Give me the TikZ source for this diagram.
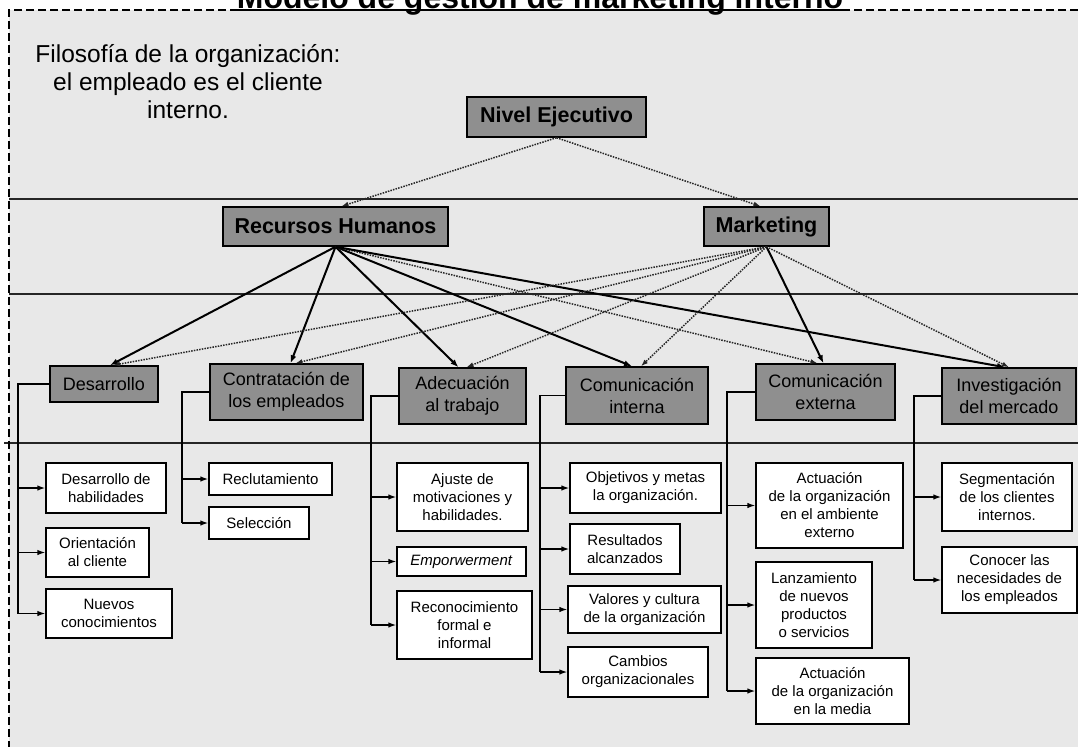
\documentclass[tikz,border=0pt]{standalone}
\usepackage{fontspec}
\setmainfont{Liberation Sans}
\usetikzlibrary{arrows.meta}
\definecolor{bgc}{RGB}{232,232,232}
\definecolor{boxg}{RGB}{143,143,143}
\begin{document}
\begin{tikzpicture}[x=1pt,y=-1pt,
  topbox/.style={draw=black, line width=1.5pt, fill=boxg, inner sep=0pt, font=\fontsize{21.5pt}{26pt}\selectfont\bfseries},
  midbox/.style={draw=black, line width=1.5pt, fill=boxg, inner sep=0pt, align=center, font=\fontsize{18pt}{22pt}\selectfont},
  leaf/.style={draw=black, line width=1.3pt, fill=white, inner sep=0pt, align=center, font=\fontsize{15pt}{18pt}\selectfont},
  solidc/.style={line width=2pt, -{Latex[length=8pt,width=6pt]}},
  dotc/.style={line width=1.5pt, dash pattern=on 1.5pt off 1.2pt, draw=black!85, -{Latex[length=7pt,width=5pt]}},
  branch/.style={line width=1.4pt},
  barr/.style={line width=1.4pt, -{Latex[length=8pt,width=5.5pt]}},
  band/.style={line width=1.4pt, draw=black!85},
  frame/.style={line width=1.2pt, dash pattern=on 8pt off 4pt}
]
\useasboundingbox (0,0) rectangle (1078,747);
\clip (0,0) rectangle (1078,747);
\fill[white] (0,0) rectangle (1078,747);
\fill[bgc] (9,10) rectangle (1078,747);

% horizontal bands
\draw[band] (9,199) -- (1078,199);
\draw[band] (9,294) -- (1078,294);
\draw[band] (4,443) -- (1078,443);

% frame
\draw[frame] (1078,10) -- (9,10) -- (9,747);

% title
\node[inner sep=0pt, anchor=base, font=\fontsize{32pt}{38pt}\selectfont\bfseries] (title) at (540,8) {Modelo de gestión de marketing interno};
\draw[line width=1.6pt] ([yshift=-2pt]title.base west) -- ([yshift=-2pt]title.base east);

% philosophy
\node[anchor=base, inner sep=0pt, font=\fontsize{24.5pt}{28pt}\selectfont] (ph1) at (188,62) {Filosofía de la organización:};
\node[anchor=base, inner sep=0pt, font=\fontsize{24.5pt}{28pt}\selectfont] (ph2) at (188,90) {el empleado es el cliente};
\node[anchor=base, inner sep=0pt, font=\fontsize{24.5pt}{28pt}\selectfont] (ph3) at (188,118) {interno.};

% top boxes
\node[topbox, minimum width=179pt, minimum height=40pt] (NE) at (556.5,117) {Nivel Ejecutivo};
\node[topbox, minimum width=225pt, minimum height=39pt] (RH) at (335.5,226.5) {Recursos Humanos};
\node[topbox, minimum width=125pt, minimum height=39pt] (MK) at (766.5,226.5) {Marketing};

% middle boxes
\node[midbox, minimum width=108pt, minimum height=36pt] (Des) at (104,384) {Desarrollo};
\node[midbox, minimum width=153pt, minimum height=56pt] (Con) at (286.5,392) {Contratación de\\los empleados};
\node[midbox, minimum width=127pt, minimum height=56pt] (Ade) at (462.5,396) {Adecuación\\al trabajo};
\node[midbox, minimum width=142pt, minimum height=57pt] (CIn) at (637,395.5) {Comunicación\\interna};
\node[midbox, minimum width=139pt, minimum height=56pt] (CEx) at (825.5,392) {Comunicación\\externa};
\node[midbox, minimum width=134pt, minimum height=56pt] (Inv) at (1009,396) {Investigación\\del mercado};

% leaves
\node[leaf, minimum width=120pt, minimum height=50pt] (L1) at (106,488) {Desarrollo de\\habilidades};
\node[leaf, minimum width=103pt, minimum height=49pt] (L2) at (97.5,552.5) {Orientación\\al cliente};
\node[leaf, minimum width=126pt, minimum height=49pt] (L3) at (109,613.5) {Nuevos\\conocimientos};
\node[leaf, minimum width=123pt, minimum height=32pt] (L4) at (270.5,479) {Reclutamiento};
\node[leaf, minimum width=100pt, minimum height=32pt] (L5) at (259,523) {Selección};
\node[leaf, minimum width=131pt, minimum height=68pt] (L6) at (462.5,497) {Ajuste de\\motivaciones y\\habilidades.};
\node[leaf, minimum width=129pt, minimum height=29pt] (L7) at (461.5,561.5) {\textit{Emporwerment}};
\node[leaf, minimum width=135pt, minimum height=68pt] (L8) at (464.5,625) {Reconocimiento\\formal e\\informal};
\node[leaf, minimum width=151pt, minimum height=50pt] (L9) at (645.5,488) {Objetivos y metas\\la organización.};
\node[leaf, minimum width=110pt, minimum height=50pt] (L10) at (625,549) {Resultados\\alcanzados};
\node[leaf, minimum width=153pt, minimum height=47pt] (L11) at (644.5,609.5) {Valores y cultura\\de la organización};
\node[leaf, minimum width=140pt, minimum height=50pt] (L12) at (638,672) {Cambios\\organizacionales};
\node[leaf, minimum width=147pt, minimum height=85pt] (L13) at (829.5,505.5) {Actuación\\de la organización\\en el ambiente\\externo};
\node[leaf, minimum width=116pt, minimum height=86pt] (L14) at (814,605) {Lanzamiento\\de nuevos\\productos\\o servicios};
\node[leaf, minimum width=153pt, minimum height=66pt] (L15) at (832.5,691) {Actuación\\de la organización\\en la media};
\node[leaf, minimum width=130pt, minimum height=68pt] (L16) at (1007,497) {Segmentación\\de los clientes\\internos.};
\node[leaf, minimum width=135pt, minimum height=66pt] (L17) at (1009.5,580) {Conocer las\\necesidades de\\los empleados};

% connectors top level
\draw[dotc] (NE.south) -- ([xshift=6pt]RH.north);
\draw[dotc] (NE.south) -- ([xshift=-6pt]MK.north);

% from Recursos Humanos
\draw[solidc] (RH.south) -- ([xshift=6pt]Des.north);
\draw[solidc] (RH.south) -- ([xshift=4pt]Con.north);
\draw[solidc] (RH.south) -- ([xshift=-4pt]Ade.north);
\draw[solidc] (RH.south) -- ([xshift=-5pt]CIn.north);
\draw[dotc] (RH.south) -- ([xshift=-8pt]CEx.north);
\draw[solidc] (RH.south) -- ([xshift=-4pt]Inv.north);

% from Marketing
\draw[dotc] (MK.south) -- ([xshift=9pt]Des.north);
\draw[dotc] (MK.south) -- ([xshift=9pt]Con.north);
\draw[dotc] (MK.south) -- ([xshift=4pt]Ade.north);
\draw[dotc] (MK.south) -- ([xshift=4pt]CIn.north);
\draw[solidc] (MK.south) -- ([xshift=-2pt]CEx.north);
\draw[dotc] (MK.south) -- (Inv.north);

% branch trunks
\coordinate (xDes) at (18,0);
\coordinate (xCon) at (182,0);
\coordinate (xAde) at (371,0);
\coordinate (xCIn) at (540,0);
\coordinate (xCEx) at (727,0);
\coordinate (xInv) at (914,0);

\draw[branch] (Des.west) -- (Des.west -| xDes) -- (L3.west -| xDes);
\draw[barr] (L1.west -| xDes) -- (L1.west);
\draw[barr] (L2.west -| xDes) -- (L2.west);
\draw[barr] (L3.west -| xDes) -- (L3.west);

\draw[branch] (Con.west) -- (Con.west -| xCon) -- (L5.west -| xCon);
\draw[barr] (L4.west -| xCon) -- (L4.west);
\draw[barr] (L5.west -| xCon) -- (L5.west);

\draw[branch] (Ade.west) -- (Ade.west -| xAde) -- (L8.west -| xAde);
\draw[barr] (L6.west -| xAde) -- (L6.west);
\draw[barr] (L7.west -| xAde) -- (L7.west);
\draw[barr] (L8.west -| xAde) -- (L8.west);

\draw[branch] (CIn.west) -- (CIn.west -| xCIn) -- (L12.west -| xCIn);
\draw[barr] (L9.west -| xCIn) -- (L9.west);
\draw[barr] (L10.west -| xCIn) -- (L10.west);
\draw[barr] (L11.west -| xCIn) -- (L11.west);
\draw[barr] (L12.west -| xCIn) -- (L12.west);

\draw[branch] (CEx.west) -- (CEx.west -| xCEx) -- (L15.west -| xCEx);
\draw[barr] (L13.west -| xCEx) -- (L13.west);
\draw[barr] (L14.west -| xCEx) -- (L14.west);
\draw[barr] (L15.west -| xCEx) -- (L15.west);

\draw[branch] (Inv.west) -- (Inv.west -| xInv) -- (L17.west -| xInv);
\draw[barr] (L16.west -| xInv) -- (L16.west);
\draw[barr] (L17.west -| xInv) -- (L17.west);
\end{tikzpicture}
\end{document}
